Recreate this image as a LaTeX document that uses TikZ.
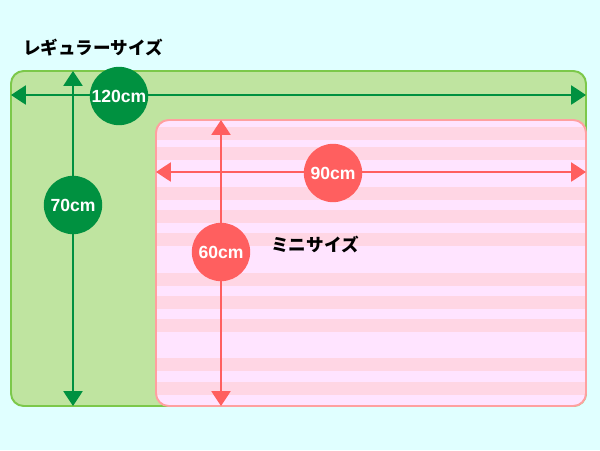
\documentclass[tikz,border=0pt]{standalone}
\usepackage{fontspec}
\newfontfamily\jpfont{Noto Sans CJK JP}
\newfontfamily\numfont{Liberation Sans}
\usetikzlibrary{arrows.meta}

\begin{document}
\begin{tikzpicture}[x=0.025cm,y=-0.025cm,
    dimarrow/.style={{Triangle[length=10.5pt,width=13.5pt]}-{Triangle[length=10.5pt,width=13.5pt]},line width=1.4pt},
    sizedot/.style={circle,minimum size=41.5pt,inner sep=0pt,text=white,font=\numfont\bfseries\fontsize{12.5pt}{14pt}\selectfont},
    sizename/.style={font=\jpfont\bfseries\fontsize{12.5pt}{14pt}\selectfont}]

    \definecolor{bgcolor}{HTML}{E0FFFF}
    \definecolor{regfill}{HTML}{BFE4A0}
    \definecolor{regline}{HTML}{7CC84A}
    \definecolor{regcolor}{HTML}{009140}
    \definecolor{minifill}{HTML}{FFE4FF}
    \definecolor{ministripe}{HTML}{FFD6E4}
    \definecolor{miniline}{HTML}{FFA0A0}
    \definecolor{minicolor}{HTML}{FF5F5F}

    \fill[bgcolor] (0,0) rectangle (600,450);
    \useasboundingbox (0,0) rectangle (600,450);

    % regular size
    \filldraw[fill=regfill,draw=regline,line width=1.4pt,rounded corners=9pt] (11,71) rectangle (586,406);

    \coordinate (regL) at (11,95);
    \coordinate (regR) at (586,95);
    \coordinate (regT) at (73,71);
    \coordinate (regB) at (73,406);
    \draw[dimarrow,regcolor] (regL) -- (regR);
    \draw[dimarrow,regcolor] (regT) -- (regB);

    \node[sizedot,fill=regcolor] (reg120) at (119,96) {120cm};
    \node[sizedot,fill=regcolor] (reg70) at (73,205) {70cm};

    \node[sizename] (reglabel) at (93,48) {レギュラーサイズ};

    % mini size
    \fill[minifill,rounded corners=9pt] (156,120) rectangle (586,406);
    \begin{scope}
        \clip[rounded corners=9pt] (156,120) rectangle (586,406);
        \foreach \y in {127,147,187,210,233,273,296,319,358,382}
            \fill[ministripe] (150,\y) rectangle (590,\y+13);
    \end{scope}
    \draw[miniline,line width=1.4pt,rounded corners=9pt] (156,120) rectangle (586,406);

    \coordinate (miniL) at (156,172);
    \coordinate (miniR) at (586,172);
    \coordinate (miniT) at (221,120);
    \coordinate (miniB) at (221,406);
    \draw[dimarrow,minicolor] (miniL) -- (miniR);
    \draw[dimarrow,minicolor] (miniT) -- (miniB);

    \node[sizedot,fill=minicolor] (mini90) at (333,173) {90cm};
    \node[sizedot,fill=minicolor] (mini60) at (221,252) {60cm};

    \node[sizename] (minilabel) at (315,245) {ミニサイズ};

\end{tikzpicture}
\end{document}
